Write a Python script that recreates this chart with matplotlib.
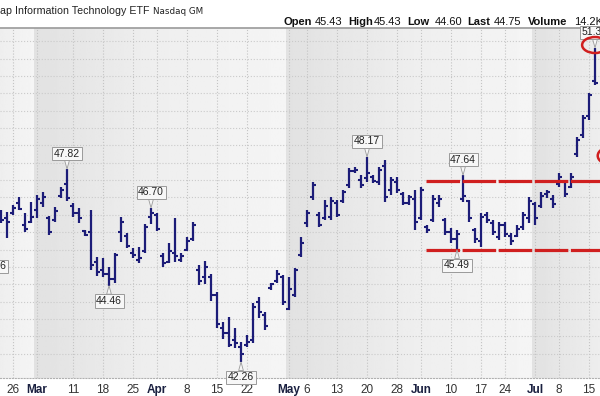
import matplotlib.pyplot as plt
import matplotlib.patches as mpatches
import numpy as np
import pandas as pd

plt.rcParams['font.family'] = ['Liberation Sans', 'DejaVu Sans']

# trading days Feb 22 2024 .. Jul 16 2024
holidays = ['2024-03-29', '2024-05-27', '2024-06-19', '2024-07-04']
dates = [d for d in pd.bdate_range('2024-02-22', '2024-07-16') if d.strftime('%Y-%m-%d') not in holidays]

high = [46.64, 46.58, 46.78, 47.01, 46.55, 46.87, 47.07, 47.16, 46.47, 46.73,
        47.30, 47.82, 46.84, 46.70, 46.06, 46.64, 45.28, 45.26, 45.00, 45.40,
        46.44, 45.98, 45.54, 45.57, 46.24, 46.70, 46.55, 45.40, 45.69, 46.41,
        45.40, 45.86, 46.29, 45.05, 45.17, 44.80, 44.28, 43.41, 43.56, 43.24,
        42.84, 43.04, 43.96, 44.13, 43.70, 44.54, 44.91, 44.77, 44.71, 44.97,
        45.86, 46.64, 47.45, 46.58, 46.93, 47.01, 46.93, 47.22, 47.85, 47.88,
        47.65, 48.17, 47.65, 47.88, 48.08, 47.59, 47.59, 47.16, 47.07, 47.22,
        47.30, 46.21, 47.07, 47.07, 46.41, 46.12, 46.06, 47.64, 46.93, 46.12,
        46.55, 46.58, 46.35, 46.29, 46.29, 45.98, 46.21, 46.58, 47.01, 46.87,
        47.16, 47.22, 47.07, 47.70, 47.50, 47.70, 48.74, 49.38, 50.01, 51.31]
low = [46.26, 45.83, 46.49, 46.64, 46.00, 46.26, 46.41, 46.73, 45.92, 46.29,
       46.98, 46.90, 46.44, 46.26, 45.89, 44.91, 44.74, 44.71, 44.46, 44.54,
       45.72, 45.54, 45.26, 45.11, 45.40, 46.24, 46.03, 45.00, 45.11, 45.14,
       45.14, 45.46, 45.75, 44.48, 44.51, 44.02, 43.24, 42.92, 42.69, 42.66,
       42.26, 42.69, 42.81, 43.53, 43.18, 44.33, 44.54, 43.90, 43.76, 44.13,
       45.28, 46.15, 46.93, 46.15, 46.35, 46.35, 46.44, 46.84, 47.27, 47.70,
       47.27, 47.45, 47.42, 47.36, 46.87, 47.07, 47.13, 46.78, 46.78, 46.06,
       46.35, 45.98, 46.29, 46.73, 45.92, 45.69, 45.49, 46.87, 46.29, 45.69,
       45.57, 46.26, 45.92, 45.77, 45.86, 45.63, 45.86, 46.06, 46.26, 46.21,
       46.70, 46.98, 46.70, 47.30, 47.01, 47.27, 48.17, 48.71, 49.23, 50.24]
opn = [46.55, 46.40, 46.55, 46.85, 46.20, 46.30, 46.65, 46.85, 46.40, 46.35,
       47.05, 47.40, 46.75, 46.55, 46.02, 46.00, 45.15, 44.90, 44.80, 44.65,
       46.00, 45.90, 45.40, 45.20, 45.45, 46.45, 46.50, 45.30, 45.15, 45.40,
       45.20, 45.50, 45.80, 44.90, 44.70, 44.70, 44.20, 43.25, 43.10, 42.90,
       42.70, 42.75, 42.90, 44.00, 43.60, 44.40, 44.60, 44.70, 43.80, 44.20,
       45.35, 46.25, 47.00, 46.50, 46.40, 46.45, 46.85, 46.90, 47.35, 47.75,
       47.50, 47.55, 47.60, 47.45, 47.90, 47.20, 47.45, 47.10, 46.85, 46.95,
       46.40, 46.15, 46.35, 46.85, 46.35, 46.00, 45.80, 46.95, 46.90, 46.05,
       45.75, 46.50, 46.25, 45.85, 46.20, 45.90, 45.90, 46.15, 46.40, 46.80,
       46.75, 47.10, 46.95, 47.40, 47.45, 47.30, 48.25, 48.80, 49.35, 50.35]
close = [46.35, 46.30, 46.70, 46.68, 46.10, 46.45, 46.95, 47.00, 46.00, 46.60,
         47.20, 46.98, 46.55, 46.40, 45.92, 45.05, 44.85, 44.80, 44.65, 45.35,
         46.30, 45.60, 45.35, 45.25, 46.15, 46.55, 46.10, 45.10, 45.45, 45.30,
         45.30, 45.75, 46.20, 44.60, 45.00, 44.20, 43.35, 43.10, 42.75, 42.80,
         42.50, 42.85, 43.85, 43.70, 43.30, 44.50, 44.80, 44.00, 44.35, 44.90,
         45.70, 46.55, 47.35, 46.20, 46.75, 46.90, 46.50, 47.15, 47.75, 47.80,
         47.35, 47.70, 47.48, 47.80, 47.00, 47.50, 47.20, 46.85, 47.00, 46.30,
         47.20, 46.05, 46.95, 46.95, 46.00, 45.80, 45.95, 47.05, 46.40, 45.80,
         46.45, 46.35, 46.00, 46.20, 45.95, 45.75, 46.10, 46.50, 46.90, 46.40,
         47.05, 47.15, 46.80, 47.60, 47.10, 47.60, 48.65, 49.30, 49.95, 50.30]

# price callouts: (bar index, price, text, above?)
callouts = [(11, 47.82, '47.82', True), (18, 44.46, '44.46', False),
            (25, 46.70, '46.70', True), (40, 42.26, '42.26', False),
            (61, 48.17, '48.17', True), (77, 47.64, '47.64', True),
            (76, 45.49, '45.49', False), (99, 51.31, '51.31', True),
            (-1.3, 45.46, '45.46', False)]

tick_dates = ['2024-02-26', '2024-03-01', '2024-03-11', '2024-03-18', '2024-03-25',
              '2024-04-01', '2024-04-08', '2024-04-15', '2024-04-22', '2024-05-01',
              '2024-05-06', '2024-05-13', '2024-05-20', '2024-05-28', '2024-06-03',
              '2024-06-10', '2024-06-17', '2024-06-24', '2024-07-01', '2024-07-08',
              '2024-07-15']
tick_labels = ['26', 'Mar', '11', '18', '25', 'Apr', '8', '15', '22', 'May', '6', '13',
               '20', '28', 'Jun', '10', '17', '24', 'Jul', '8', '15']
months = ['Mar', 'Apr', 'May', 'Jun', 'Jul']

resistance = 47.47
support = 45.49

date_str = [d.strftime('%Y-%m-%d') for d in dates]
idx = np.arange(len(dates))

fig = plt.figure(figsize=(6, 3.96), dpi=100)
ax = fig.add_axes([0, 18 / 396, 1, 350 / 396])
ymin, ymax = 41.80, 51.88
xmin, xmax = -0.17, 99.83

# month shading bands
bounds = [xmin] + [date_str.index(t) - 0.5 for t in ['2024-03-01', '2024-04-01', '2024-05-01', '2024-06-03', '2024-07-01']] + [xmax + 1]
for k in range(len(bounds) - 1):
    grad = np.linspace(0, 1, 50).reshape(1, -1)
    if k % 2 == 1:
        c0, c1 = 0.885, 0.935
    else:
        c0, c1 = 0.935, 0.96
    ax.imshow(c0 + (c1 - c0) * grad, extent=[bounds[k], bounds[k + 1], ymin, ymax], aspect='auto',
              cmap='gray', vmin=0, vmax=1, zorder=0, interpolation='bilinear')
ax.set_xlim(xmin, xmax)
ax.set_ylim(ymin, ymax)

# grid
tick_pos = [date_str.index(t) for t in tick_dates]
for p in tick_pos:
    ax.axvline(p, color='#c4c4c4', ls=':', lw=0.8, zorder=1)
for y in np.arange(42.5, 52, 0.5):
    ax.axhline(y, color='#cacaca', ls=':', lw=0.8, zorder=1)

# OHLC bars
bar_col = '#1c1c78'
ax.vlines(idx, low, high, color=bar_col, lw=1.6, zorder=3)
ax.hlines(opn, idx - 0.55, idx, color=bar_col, lw=1.5, zorder=3)
ax.hlines(close, idx, idx + 0.55, color=bar_col, lw=1.5, zorder=3)

# support / resistance
start = 71
for y in [resistance, support]:
    ax.plot([start - 0.2, 102], [y, y], color='#d01f1f', lw=2.3,
            dashes=(10.5, 0.8), zorder=4, solid_capstyle='butt', dash_capstyle='butt')

# callouts
for i, price, txt, above in callouts:
    off = 7.5 if above else -7.5
    ax.annotate(txt, xy=(i, price), xytext=(0, off), textcoords='offset points',
                ha='center', va='bottom' if above else 'top', fontsize=7.5, color='#222222',
                bbox=dict(boxstyle='square,pad=0.15', fc='#f7f7f7', ec='#9a9a9a', lw=0.7),
                arrowprops=dict(arrowstyle='wedge,tail_width=0.45', fc='#f7f7f7', ec='#9a9a9a',
                                lw=0.6, shrinkA=0, shrinkB=0),
                zorder=5, annotation_clip=False)

# red circles
ax.add_patch(mpatches.Ellipse((99, 51.39), 4.3, 0.46, fill=False, ec='#d01f1f', lw=1.8, zorder=6))
ax.add_patch(mpatches.Ellipse((101.6, 48.2), 4.3, 0.5, fill=False, ec='#d01f1f', lw=1.8, zorder=6))

# axes styling
ax.set_yticks([])
ax.set_xticks(tick_pos)
ax.set_xticklabels(tick_labels)
ax.tick_params(axis='x', length=0, pad=4, labelsize=8.5, colors='#333333')
for lab in ax.get_xticklabels():
    if lab.get_text() in months:
        lab.set_fontweight('bold')
        lab.set_color('#1a2040')
for s in ['left', 'right']:
    ax.spines[s].set_visible(False)
ax.spines['top'].set_color('#9a9a9a')
ax.spines['top'].set_linewidth(1.2)
ax.spines['bottom'].set_color('#b0b0b0')
ax.spines['bottom'].set_linestyle(':')

# header texts
fig.text(0, 1 - 11 / 396, 'ap Information Technology ETF', fontsize=7.7, color='#222222', va='center')
fig.text(153 / 600, 1 - 11 / 396, 'Nasdaq GM', fontsize=6.3, color='#222222', va='center',
         family=['DejaVu Sans'])
pieces = [('Open', 283, True), ('45.43', 315, False), ('High', 348, True), ('45.43', 374, False),
          ('Low', 407, True), ('44.60', 435, False), ('Last', 467, True), ('44.75', 494, False),
          ('Volume', 528, True), ('14.2K', 574, False)]
for txt, xp, bold in pieces:
    fig.text(xp / 600, 1 - 22 / 396, txt, fontsize=8, va='center', color='#111111',
             fontweight='bold' if bold else 'normal')

fig.savefig('out.png', dpi=100)
